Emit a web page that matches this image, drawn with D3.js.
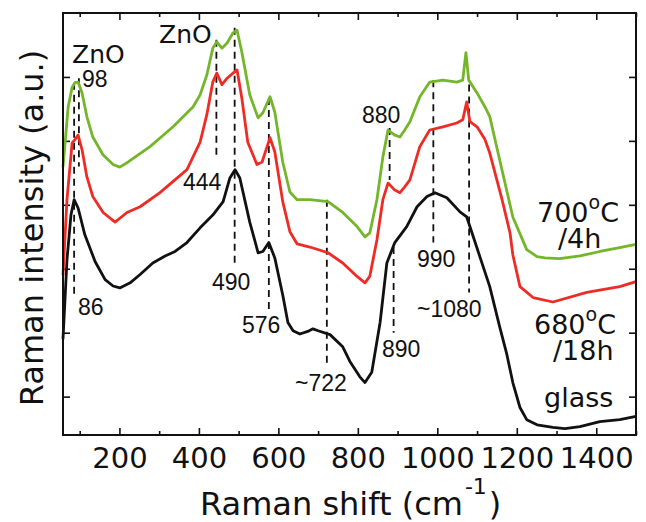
<!DOCTYPE html>
<html>
<head>
<meta charset="utf-8">
<title>Raman spectra</title>
<style>
  body { margin: 0; background: #fff; }
  text { fill: #111; }
</style>
</head>
<body>
<main></main>
<script src="https://cdn.jsdelivr.net/npm/d3@7"></script>
<script>
// data: [Raman shift (cm-1), intensity (a.u., offset)]
var glass = [
  [58, 0.9], [68, 2.14], [78, 2.84], [86, 3.08], [96, 2.95], [113, 2.53], [139, 2.11],
  [164, 1.83], [184, 1.73], [201, 1.70], [227, 1.78], [252, 1.91], [284, 2.09], [315, 2.20],
  [340, 2.27], [370, 2.41], [403, 2.64], [435, 2.84], [461, 3.05], [478, 3.42], [491, 3.55],
  [503, 3.42], [528, 2.73], [549, 2.25], [561, 2.27], [576, 2.41], [591, 2.17], [611, 1.59],
  [624, 1.16], [637, 1.03], [654, 0.98], [674, 1.02], [687, 1.06], [700, 1.03], [730, 0.97],
  [762, 0.78], [780, 0.55], [805, 0.31], [818, 0.22], [835, 0.38], [856, 1.16], [873, 2.09],
  [893, 2.41], [923, 2.66], [949, 2.97], [974, 3.13], [994, 3.19], [1024, 3.11], [1057, 2.89],
  [1074, 2.81], [1082, 2.66], [1107, 2.19], [1132, 1.72], [1157, 1.09], [1175, 0.66],
  [1190, 0.22], [1208, -0.17], [1225, -0.36], [1251, -0.44], [1291, -0.48], [1321, -0.50],
  [1359, -0.47], [1409, -0.39], [1459, -0.36], [1500, -0.31]
];
var s680 = [
  [58, 1.9], [68, 3.08], [81, 3.97], [88, 4.02], [96, 4.09], [106, 3.86], [118, 3.44],
  [133, 3.13], [159, 2.88], [189, 2.73], [219, 2.88], [252, 2.97], [302, 3.19], [370, 3.55],
  [403, 3.98], [420, 4.41], [435, 4.92], [445, 5.06], [458, 4.88], [471, 4.98], [486, 5.06],
  [496, 5.11], [508, 4.67], [523, 3.98], [546, 3.63], [559, 3.67], [579, 4.05], [591, 3.83],
  [611, 3.05], [629, 2.58], [647, 2.39], [679, 2.34], [725, 2.25], [762, 2.09], [798, 1.88],
  [818, 1.78], [830, 1.88], [848, 2.45], [863, 3.08], [876, 3.34], [893, 3.23], [906, 3.19],
  [918, 3.28], [931, 3.39], [956, 3.91], [981, 4.17], [1014, 4.22], [1049, 4.28], [1064, 4.33],
  [1074, 4.61], [1082, 4.30], [1100, 4.22], [1120, 4.02], [1132, 3.81], [1163, 3.08],
  [1183, 2.56], [1190, 2.22], [1208, 1.72], [1241, 1.55], [1291, 1.48], [1376, 1.63],
  [1459, 1.72], [1500, 1.80]
];
var s700 = [
  [58, 3.59], [71, 4.53], [81, 4.84], [88, 4.91], [96, 4.92], [106, 4.75], [118, 4.38],
  [133, 4.06], [159, 3.78], [184, 3.63], [201, 3.59], [222, 3.67], [277, 3.91], [335, 4.22],
  [385, 4.53], [403, 4.72], [420, 5.03], [435, 5.45], [445, 5.55], [458, 5.45], [471, 5.53],
  [486, 5.69], [496, 5.73], [508, 5.39], [528, 4.72], [549, 4.36], [561, 4.44], [579, 4.69],
  [591, 4.45], [611, 3.67], [629, 3.20], [647, 3.08], [679, 3.08], [725, 3.05], [762, 2.88],
  [798, 2.66], [818, 2.50], [830, 2.56], [848, 3.08], [863, 3.75], [876, 4.17], [893, 4.09],
  [906, 4.06], [918, 4.17], [931, 4.30], [956, 4.69], [981, 4.92], [1014, 4.95], [1049, 4.92],
  [1064, 4.95], [1072, 5.38], [1079, 4.95], [1100, 4.75], [1120, 4.53], [1132, 4.38],
  [1157, 3.70], [1190, 2.81], [1225, 2.30], [1251, 2.19], [1271, 2.17], [1308, 2.16],
  [1359, 2.20], [1409, 2.27], [1459, 2.33], [1500, 2.38]
];

// dashed peak markers: [shift, top, bottom]
var peakLines = [
  [86, 4.91, 1.56], [98, 4.98, 3.6], [444, 5.58, 3.73], [490, 5.77, 2.02], [576, 4.67, 1.33],
  [722, 3.08, 0.47], [880, 4.20, 3.39], [890, 2.34, 1.0], [990, 4.95, 2.41], [1080, 4.88, 1.63]
];

var xMajor = [200, 400, 600, 800, 1000, 1200, 1400];
var xMinor = [100, 300, 500, 700, 900, 1100, 1300, 1500];
var yMajor = [0, 1, 2, 3, 4, 5];

var width = 646, height = 522;
var svg = d3.select("main").append("svg")
    .attr("width", width).attr("height", height)
    .style("font-family", "'DejaVu Sans', sans-serif");

var x = d3.scaleLinear().domain([58, 1500]).range([63, 636]);
var y = d3.scaleLinear().domain([-0.6, 6]).range([435, 13]);

// ticks, all pointing into the frame
function cleanAxis(g) {
    g.select(".domain").remove();
    g.selectAll(".tick line").attr("stroke", "#111").attr("stroke-width", 1.6);
}
svg.append("g").attr("transform", "translate(0,435)")
    .call(d3.axisBottom(x).tickValues(xMajor).tickSize(-7).tickPadding(12.5).tickFormat(d3.format("d")))
    .call(cleanAxis)
    .call(function (g) {
        g.selectAll("text").attr("font-size", 29).attr("font-family", "'DejaVu Sans', sans-serif").attr("fill", "#111");
    });
svg.append("g").attr("transform", "translate(0,435)")
    .call(d3.axisBottom(x).tickValues(xMinor).tickSize(-4).tickFormat(""))
    .call(cleanAxis);
svg.append("g").attr("transform", "translate(0,13)")
    .call(d3.axisTop(x).tickValues(xMajor).tickSize(-7).tickFormat(""))
    .call(cleanAxis);
svg.append("g").attr("transform", "translate(0,13)")
    .call(d3.axisTop(x).tickValues(xMinor).tickSize(-4).tickFormat(""))
    .call(cleanAxis);
svg.append("g").attr("transform", "translate(63,0)")
    .call(d3.axisLeft(y).tickValues(yMajor).tickSize(-7).tickFormat(""))
    .call(cleanAxis);
svg.append("g").attr("transform", "translate(636,0)")
    .call(d3.axisRight(y).tickValues(yMajor).tickSize(-7).tickFormat(""))
    .call(cleanAxis);

// dashed peak markers
svg.append("g").selectAll("line").data(peakLines).enter().append("line")
    .attr("x1", function (d) { return x(d[0]); })
    .attr("x2", function (d) { return x(d[0]); })
    .attr("y1", function (d) { return y(d[1]); })
    .attr("y2", function (d) { return y(d[2]); })
    .attr("stroke", "#111").attr("stroke-width", 1.8)
    .attr("stroke-dasharray", "7,5");

// spectra
var line = d3.line()
    .x(function (d) { return x(d[0]); })
    .y(function (d) { return y(d[1]); });
var series = [
    { data: glass, color: "#111111" },
    { data: s680, color: "#ee2b25" },
    { data: s700, color: "#74b62a" }
];
svg.append("g").selectAll("path").data(series).enter().append("path")
    .attr("d", function (d) { return line(d.data); })
    .attr("fill", "none")
    .attr("stroke", function (d) { return d.color; })
    .attr("stroke-width", 2.8)
    .attr("stroke-linejoin", "round");

// frame
svg.append("rect")
    .attr("x", 63).attr("y", 13).attr("width", 573).attr("height", 422)
    .attr("fill", "none").attr("stroke", "#111").attr("stroke-width", 2);

// peak labels
var peakLabels = [
    ["444", 183, 190], ["490", 212, 290], ["86", 78, 315], ["576", 242, 333],
    ["~722", 295, 391], ["880", 362, 123], ["890", 382, 357], ["990", 417, 267], ["~1080", 417, 317]
];
svg.append("g").selectAll("text").data(peakLabels).enter().append("text")
    .attr("x", function (d) { return d[1]; })
    .attr("y", function (d) { return d[2]; })
    .attr("font-family", "'Liberation Sans', Arial, sans-serif")
    .attr("font-size", 23)
    .text(function (d) { return d[0]; });

// ZnO + 98 stacked in one text
var zn1 = svg.append("text").attr("x", 72).attr("y", 63).attr("font-size", 25);
zn1.append("tspan").text("ZnO");
zn1.append("tspan").attr("x", 82).attr("dy", 24)
    .attr("font-family", "'Liberation Sans', Arial, sans-serif").attr("font-size", 23).text("98");
svg.append("text").attr("x", 159).attr("y", 43).attr("font-size", 25).text("ZnO");

// sample labels, two lines in one text each
function tempLabel(t, x0, y0, x1, sub) {
    var tx = svg.append("text").attr("x", x0).attr("y", y0).attr("font-size", 27);
    tx.append("tspan").text(t);
    tx.append("tspan").attr("font-size", 19).attr("dy", -13).text("o");
    tx.append("tspan").attr("dy", 13).text("C");
    tx.append("tspan").attr("x", x1).attr("dy", 26).text(sub);
}
tempLabel("700", 537, 222, 558, "/4h");
tempLabel("680", 534, 334, 553, "/18h");
svg.append("text").attr("x", 544).attr("y", 407).attr("font-size", 27).text("glass");

// axis titles
var xt = svg.append("text").attr("x", 200).attr("y", 515).attr("font-size", 32);
xt.append("tspan").text("Raman shift (cm");
xt.append("tspan").attr("font-size", 22).attr("dx", 2).attr("dy", -21).text("-1");
xt.append("tspan").attr("dx", 2).attr("dy", 21).text(")");

svg.append("text")
    .attr("transform", "translate(43,228) rotate(-90)")
    .attr("text-anchor", "middle")
    .attr("font-size", 32)
    .text("Raman intensity (a.u.)");
</script>
</body>
</html>
